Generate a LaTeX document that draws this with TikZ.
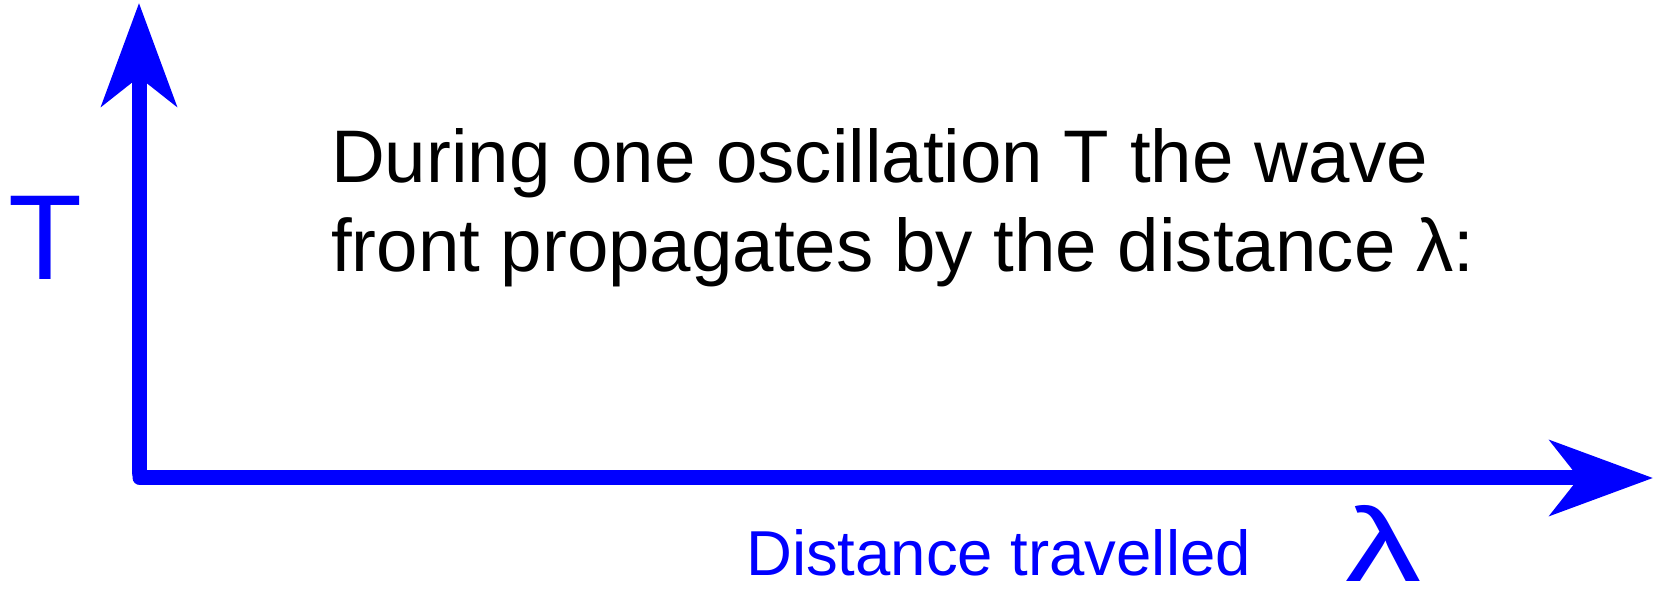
\documentclass[tikz,border=0pt]{standalone}
\usepackage{fontspec}
\setmainfont{Liberation Sans}
\usetikzlibrary{arrows.meta}
\definecolor{axisblue}{RGB}{0,0,255}
\begin{document}
\begin{tikzpicture}[x=1pt,y=1pt,
  axis/.style={draw=axisblue,line width=15pt,line cap=round,
    -{Stealth[length=103pt,width=75pt,inset=29pt]}},
  txt/.style={inner sep=0pt,anchor=base west}]
  \useasboundingbox (0,0) rectangle (1658,591);
  \coordinate (o) at (139,118);
  \coordinate (ytip) at (139,588);
  \coordinate (xo) at (140,113);
  \coordinate (xtip) at (1653,113);
  \draw[axis] (o) -- (ytip);
  \draw[axis] (xo) -- (xtip);
  \node[txt,text=axisblue,font=\fontsize{121}{121}\selectfont] (tlabel) at (8,311) {T};
  \node[txt,font=\fontsize{74.5}{86}\selectfont] (line1) at (331,408) {During one oscillation T the wave};
  \node[txt,font=\fontsize{74.5}{86}\selectfont] (line2) at (331,319) {front propagates by the distance λ:};
  \node[txt,text=axisblue,font=\fontsize{63.5}{63.5}\selectfont] (xlabel) at (746,15) {Distance travelled};
  \node[txt,text=axisblue,font=\fontsize{105}{105}\selectfont] (lam) at (1345,9) {\scalebox{1.45}[1]{λ}};
\end{tikzpicture}
\end{document}
